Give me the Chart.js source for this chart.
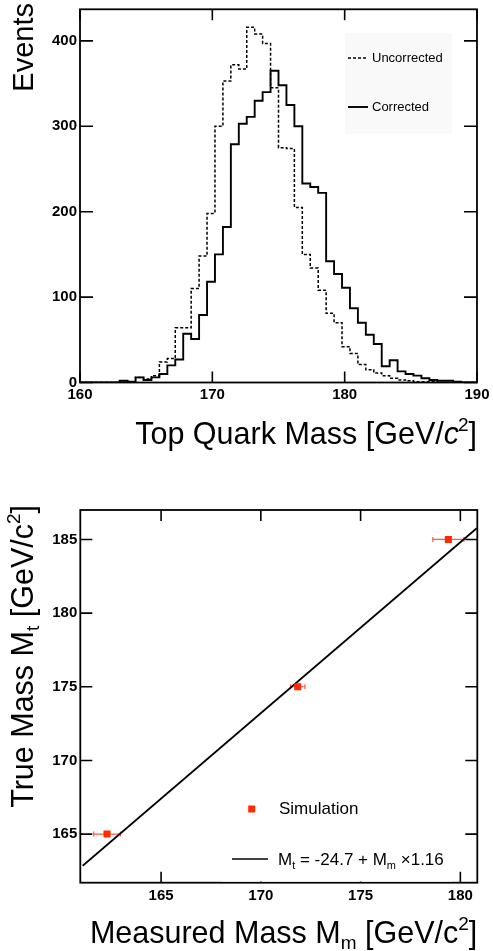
<!DOCTYPE html>
<html>
<head>
<meta charset="utf-8">
<script src="https://cdn.jsdelivr.net/npm/chart.js@4.4.0/dist/chart.umd.min.js"></script>
<style>
  body { margin: 0; background: #fff; }
  #wrap { position: relative; width: 493px; height: 951px; }
  canvas { position: absolute; left: 0; }
</style>
</head>
<body>
<div id="wrap">
  <canvas id="massChart" width="493" height="470" style="top:0"></canvas>
  <canvas id="calibChart" width="493" height="481" style="top:470px"></canvas>
</div>
<script>
// top panel: reconstructed top mass, 50 bins of 0.6 GeV from 160
const binLow = 160;
const binWidth = 0.6;
const uncorrected = [
  0, 0, 0, 0, 0, 2, 1, 6, 4, 8,
  24, 28, 64, 64, 110, 148, 198, 300, 353, 372,
  367, 416, 408, 397, 345, 275, 274, 205, 150, 134,
  108, 81, 70, 42, 34, 21, 15, 11, 8, 5,
  3, 2, 1, 1, 1, 0, 0, 0, 0, 0
];
const corrected = [
  0, 0, 0, 0, 0, 2, 1, 6, 3, 6,
  10, 20, 27, 57, 51, 79, 118, 150, 182, 279,
  303, 311, 330, 340, 365, 348, 325, 300, 233, 229,
  222, 142, 127, 111, 87, 70, 56, 45, 19, 26,
  13, 10, 8, 5, 3, 2, 2, 1, 0, 0
];
const massTicksX = [160, 170, 180, 190];
const eventTicksY = [0, 100, 200, 300, 400];

// bottom panel: calibration points and fit
const measuredMass = [162.29, 171.85, 179.40];
const measuredErr = [0.67, 0.36, 0.78];
const trueMass = [165, 175, 185];
const fitMeasured = [161.07, 180.82];
const fitTrue = [162.85, 185.76];
const calibTicksX = [165, 170, 175, 180];
const calibTicksY = [165, 170, 175, 180, 185];

const FONT = "'Liberation Sans', Arial, sans-serif";
const RED = '#ff2a00';

function f(size, style) {
  return (style || '') + ' ' + size + 'px ' + FONT;
}

function histPoints(values) {
  const pts = values.map((v, i) => ({ x: binLow + i * binWidth, y: v }));
  pts.push({ x: binLow + values.length * binWidth, y: values[values.length - 1] });
  return pts;
}

// text with sub/superscripts, drawn right or left aligned, optionally rotated
function richText(ctx, parts, x, y, align, rotated) {
  let w = 0;
  parts.forEach(p => {
    ctx.font = p.font;
    p.w = ctx.measureText(p.t).width + (p.gap || 0);
    w += p.w;
  });
  ctx.save();
  ctx.translate(x, y);
  if (rotated) ctx.rotate(-Math.PI / 2);
  ctx.fillStyle = '#000';
  ctx.textAlign = 'left';
  ctx.textBaseline = 'alphabetic';
  let cx = align === 'right' ? -w : 0;
  parts.forEach(p => {
    ctx.font = p.font;
    ctx.fillText(p.t, cx, p.dy || 0);
    cx += p.w;
  });
  ctx.restore();
}

function axis(min, max, ticks, pad, size, isX) {
  return {
    type: 'linear',
    min: min,
    max: max,
    grid: { display: false, drawTicks: false },
    border: { display: false },
    afterBuildTicks: s => { s.ticks = ticks.map(v => ({ value: v })); },
    afterFit: s => {
      if (isX) s.height = size; else s.width = size;
      s.paddingLeft = s.paddingRight = s.paddingTop = s.paddingBottom = 0;
    },
    ticks: {
      color: '#000',
      padding: pad,
      autoSkip: false,
      maxRotation: 0,
      minRotation: 0,
      font: { family: FONT, size: 15, weight: 'bold' }
    }
  };
}

// box round the plot with ticks pointing inwards on all four sides
const framePlugin = {
  id: 'frame',
  afterDatasetsDraw(chart, args, opts) {
    const { ctx, chartArea: a } = chart;
    const x = chart.scales.x, y = chart.scales.y;
    ctx.save();
    ctx.strokeStyle = '#000';
    ctx.lineWidth = 1.6;
    ctx.beginPath();
    x.ticks.forEach(t => {
      const px = x.getPixelForValue(t.value);
      ctx.moveTo(px, a.bottom); ctx.lineTo(px, a.bottom - opts.xTick);
      ctx.moveTo(px, a.top); ctx.lineTo(px, a.top + opts.xTick);
    });
    y.ticks.forEach(t => {
      const py = y.getPixelForValue(t.value);
      ctx.moveTo(a.left, py); ctx.lineTo(a.left + opts.yTick, py);
      ctx.moveTo(a.right, py); ctx.lineTo(a.right - opts.yTick, py);
    });
    ctx.stroke();
    ctx.lineWidth = 1.8;
    ctx.strokeRect(a.left, a.top, a.width, a.height);
    ctx.restore();
  }
};

const massDecor = {
  id: 'massDecor',
  afterDraw(chart) {
    const ctx = chart.ctx;
    const ds = chart.data.datasets;
    ctx.save();
    ctx.fillStyle = '#f9f9f9';
    ctx.fillRect(345, 33, 107, 101);
    ctx.strokeStyle = '#000';
    ctx.lineWidth = 1.5;
    ctx.setLineDash([3, 2]);
    ctx.beginPath(); ctx.moveTo(348, 58); ctx.lineTo(368, 58); ctx.stroke();
    ctx.setLineDash([]);
    ctx.lineWidth = 1.9;
    ctx.beginPath(); ctx.moveTo(348, 107); ctx.lineTo(368, 107); ctx.stroke();
    ctx.fillStyle = '#000';
    ctx.font = f(13);
    ctx.textBaseline = 'middle';
    ctx.fillText(ds[0].label, 372, 58);
    ctx.fillText(ds[1].label, 372, 107);
    ctx.restore();

    richText(ctx, [
      { t: 'Top Quark Mass [GeV/', font: f(30.5) },
      { t: 'c', font: f(30.5, 'italic'), gap: -1 },
      { t: '2', font: f(19), dy: -13 },
      { t: ']', font: f(30.5) }
    ], 477, 444, 'right');
    richText(ctx, [{ t: 'Events', font: f(29) }], 33, 3, 'right', true);
  }
};

new Chart(document.getElementById('massChart'), {
  type: 'line',
  data: {
    datasets: [
      {
        label: 'Uncorrected',
        data: histPoints(uncorrected),
        borderColor: '#000',
        borderWidth: 1.5,
        borderDash: [3, 2],
        stepped: true,
        pointRadius: 0,
        fill: false
      },
      {
        label: 'Corrected',
        data: histPoints(corrected),
        borderColor: '#000',
        borderWidth: 1.9,
        stepped: true,
        pointRadius: 0,
        fill: false
      }
    ]
  },
  options: {
    responsive: false,
    animation: false,
    events: [],
    layout: { padding: { top: 9.3, right: 16, left: 0, bottom: 0 } },
    plugins: {
      legend: { display: false },
      tooltip: { enabled: false },
      frame: { xTick: 11, yTick: 13 }
    },
    scales: {
      x: axis(160, 190, massTicksX, 3, 87.5, true),
      y: axis(0, 437, eventTicksY, 3, 80, false)
    }
  },
  plugins: [framePlugin, massDecor]
});

const errorBars = {
  id: 'errorBars',
  beforeDatasetsDraw(chart) {
    const { ctx } = chart;
    const x = chart.scales.x, y = chart.scales.y;
    ctx.save();
    ctx.strokeStyle = '#ff5a3a';
    ctx.lineWidth = 1.2;
    ctx.beginPath();
    measuredMass.forEach((m, i) => {
      const py = y.getPixelForValue(trueMass[i]);
      const x0 = x.getPixelForValue(m - measuredErr[i]);
      const x1 = x.getPixelForValue(m + measuredErr[i]);
      ctx.moveTo(x0, py); ctx.lineTo(x1, py);
      ctx.moveTo(x0, py - 2.5); ctx.lineTo(x0, py + 2.5);
      ctx.moveTo(x1, py - 2.5); ctx.lineTo(x1, py + 2.5);
    });
    ctx.stroke();
    ctx.restore();
  }
};

const calibDecor = {
  id: 'calibDecor',
  afterDraw(chart) {
    const ctx = chart.ctx;
    const ds = chart.data.datasets;
    ctx.save();
    ctx.fillStyle = '#fff';
    ctx.fillRect(222, 310, 230, 101.5);
    ctx.fillStyle = RED;
    ctx.fillRect(248.2, 335.5, 7, 7);
    ctx.strokeStyle = '#000';
    ctx.lineWidth = 1.7;
    ctx.beginPath(); ctx.moveTo(232, 389); ctx.lineTo(268, 389); ctx.stroke();
    ctx.fillStyle = '#000';
    ctx.font = f(17);
    ctx.textBaseline = 'middle';
    ctx.fillText(ds[0].label, 279, 339);
    ctx.restore();

    richText(ctx, [
      { t: 'M', font: f(17) },
      { t: 't', font: f(11), dy: 4 },
      { t: ' = -24.7 + M', font: f(17) },
      { t: 'm', font: f(11), dy: 4 },
      { t: ' \u00d71.16', font: f(17) }
    ], 278, 395, 'left');

    richText(ctx, [
      { t: 'Measured Mass M', font: f(30.5) },
      { t: 'm', font: f(19), dy: 6 },
      { t: ' [GeV/c', font: f(30.5) },
      { t: '2', font: f(19), dy: -13 },
      { t: ']', font: f(30.5) }
    ], 477.3, 473, 'right');
    richText(ctx, [
      { t: 'True Mass M', font: f(30.5) },
      { t: 't', font: f(19), dy: 6 },
      { t: ' [GeV/c', font: f(30.5) },
      { t: '2', font: f(19), dy: -13 },
      { t: ']', font: f(30.5) }
    ], 33, 35, 'right', true);
  }
};

new Chart(document.getElementById('calibChart'), {
  type: 'scatter',
  data: {
    datasets: [
      {
        label: 'Simulation',
        data: measuredMass.map((m, i) => ({ x: m, y: trueMass[i] })),
        pointStyle: 'rect',
        pointRadius: 5,
        backgroundColor: RED,
        borderColor: RED,
        borderWidth: 0
      },
      {
        type: 'line',
        label: 'Fit',
        data: fitMeasured.map((m, i) => ({ x: m, y: fitTrue[i] })),
        borderColor: '#000',
        borderWidth: 1.7,
        pointRadius: 0,
        showLine: true,
        fill: false
      }
    ]
  },
  options: {
    responsive: false,
    animation: false,
    events: [],
    layout: { padding: { top: 40, right: 15.7, left: 0, bottom: 0 } },
    plugins: {
      legend: { display: false },
      tooltip: { enabled: false },
      frame: { xTick: 11, yTick: 12 }
    },
    scales: {
      x: axis(160.95, 180.85, calibTicksX, 4, 68.3, true),
      y: axis(161.7, 187, calibTicksY, 3, 80.3, false)
    }
  },
  plugins: [framePlugin, errorBars, calibDecor]
});
</script>
</body>
</html>
